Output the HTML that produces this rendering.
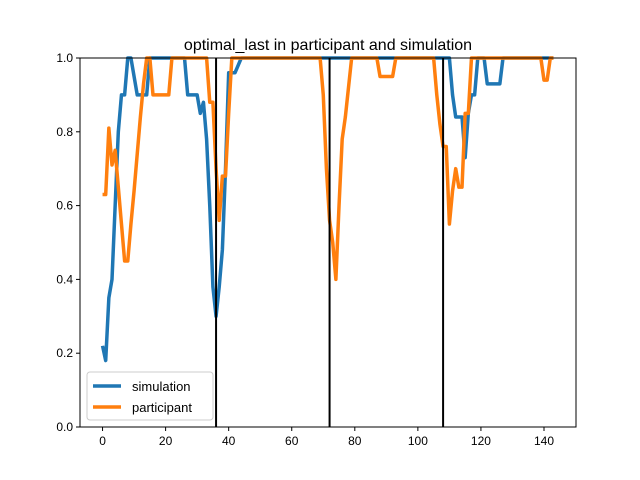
<!DOCTYPE html>
<html><head><meta charset="utf-8"><style>
html,body{margin:0;padding:0;background:#fff}
svg{display:block;font-family:"Liberation Sans","DejaVu Sans",sans-serif}
</style></head><body>
<svg id="chart" width="640" height="480" viewBox="0 0 640 480">
<rect width="640" height="480" fill="#fff"/>
<text x="328" y="50" font-size="16" text-anchor="middle">optimal_last in participant and simulation</text>
<g id="plot"></g>
</svg>
<script>
const simulation = [
.22,.18,.35,.40,.6,.8,.9,.9,1,1,
.95,.9,.9,.9,.9,1,1,1,1,1,
1,1,1,1,1,1,1,.9,.9,.9,
.9,.85,.88,.78,.6,.38,.30,.38,.48,.7,
.96,.96,.96,.98,1,1,1,1,1,1,
1,1,1,1,1,1,1,1,1,1,
1,1,1,1,1,1,1,1,1,1,
1,1,1,1,1,1,1,1,1,1,
1,1,1,1,1,1,1,1,1,1,
1,1,1,1,1,1,1,1,1,1,
1,1,1,1,1,1,1,1,1,1,
1,.9,.84,.84,.84,.73,.85,.9,.9,1,
1,1,.93,.93,.93,.93,.93,1,1,1,
1,1,1,1,1,1,1,1,1,1,
1,1,1,1];
const participant = [
.63,.63,.81,.71,.75,.65,.55,.45,.45,.55,
.64,.74,.84,.93,1,1,.9,.9,.9,.9,
.9,.9,1,1,1,1,1,1,1,1,
1,1,1,1,.88,.88,.7,.56,.68,.68,
.85,1,1,1,1,1,1,1,1,1,
1,1,1,1,1,1,1,1,1,1,
1,1,1,1,1,1,1,1,1,1,
.9,.7,.56,.5,.4,.6,.78,.84,.92,1,
1,1,1,1,1,1,1,1,.95,.95,
.95,.95,.95,1,1,1,1,1,1,1,
1,1,1,1,1,1,.9,.82,.76,.76,
.55,.64,.7,.65,.65,.85,.85,1,1,1,
1,1,1,1,1,1,1,1,1,1,
1,1,1,1,1,1,1,1,1,1,
.94,.94,1,1];
const vlines = [36, 72, 108];
const xTicks = [0, 20, 40, 60, 80, 100, 120, 140];
const yTicks = [0.0, 0.2, 0.4, 0.6, 0.8, 1.0];

const L=80,R=576,T=58,B=427;
const xmin=-7.15,xmax=150.15;
const X=v=>L+(v-xmin)/(xmax-xmin)*(R-L);
const Y=v=>B-v*(B-T);
const NS="http://www.w3.org/2000/svg";
const g=document.getElementById('plot');
function mk(t,a){const e=document.createElementNS(NS,t);for(const k in a)e.setAttribute(k,a[k]);g.appendChild(e);return e;}

function series(arr,color,name){
  const p=mk('polyline',{points:arr.map((v,i)=>X(i)+','+Y(v)).join(' '),fill:'none',stroke:color,'stroke-width':3.5,'stroke-linejoin':'round','clip-path':'url(#clip)'});
  
  
}
const defs=document.createElementNS(NS,'defs');
defs.innerHTML='<clipPath id="clip"><rect x="'+L+'" y="'+(T-3)+'" width="'+(R-L)+'" height="'+(B-T+3)+'"/></clipPath>';
document.getElementById('chart').appendChild(defs);

series(simulation,'#1f77b4','simulation-line');
series(participant,'#ff7f0e','participant-line');
vlines.forEach(v=>{
  const l=mk('line',{x1:X(v),x2:X(v),y1:T,y2:B,stroke:'#000','stroke-width':2});
  
  
});
const frame=mk('rect',{x:L,y:T,width:R-L,height:B-T,fill:'none',stroke:'#000','stroke-width':1});


xTicks.forEach(v=>{
  mk('line',{x1:X(v),x2:X(v),y1:B,y2:B+4,stroke:'#000'});
  const t=mk('text',{x:X(v),y:B+18,'font-size':12,'text-anchor':'middle'});
  t.textContent=v;
  
  
});
yTicks.forEach(v=>{
  mk('line',{x1:L-4,x2:L,y1:Y(v),y2:Y(v),stroke:'#000'});
  const t=mk('text',{x:L-7,y:Y(v)+4,'font-size':12,'text-anchor':'end'});
  t.textContent=v.toFixed(1);
  
  
});
// legend
const lg=mk('rect',{x:87,y:372,width:126,height:48,rx:3,fill:'#fff','fill-opacity':0.8,stroke:'#ccc'});


[['simulation','#1f77b4',386],['participant','#ff7f0e',407]].forEach(([n,c,y])=>{
  mk('line',{x1:93,x2:121,y1:y,y2:y,stroke:c,'stroke-width':3.5});
  const t=mk('text',{x:132,y:y+5,'font-size':13});
  t.textContent=n;
  
  
});
</script>
</body></html>
